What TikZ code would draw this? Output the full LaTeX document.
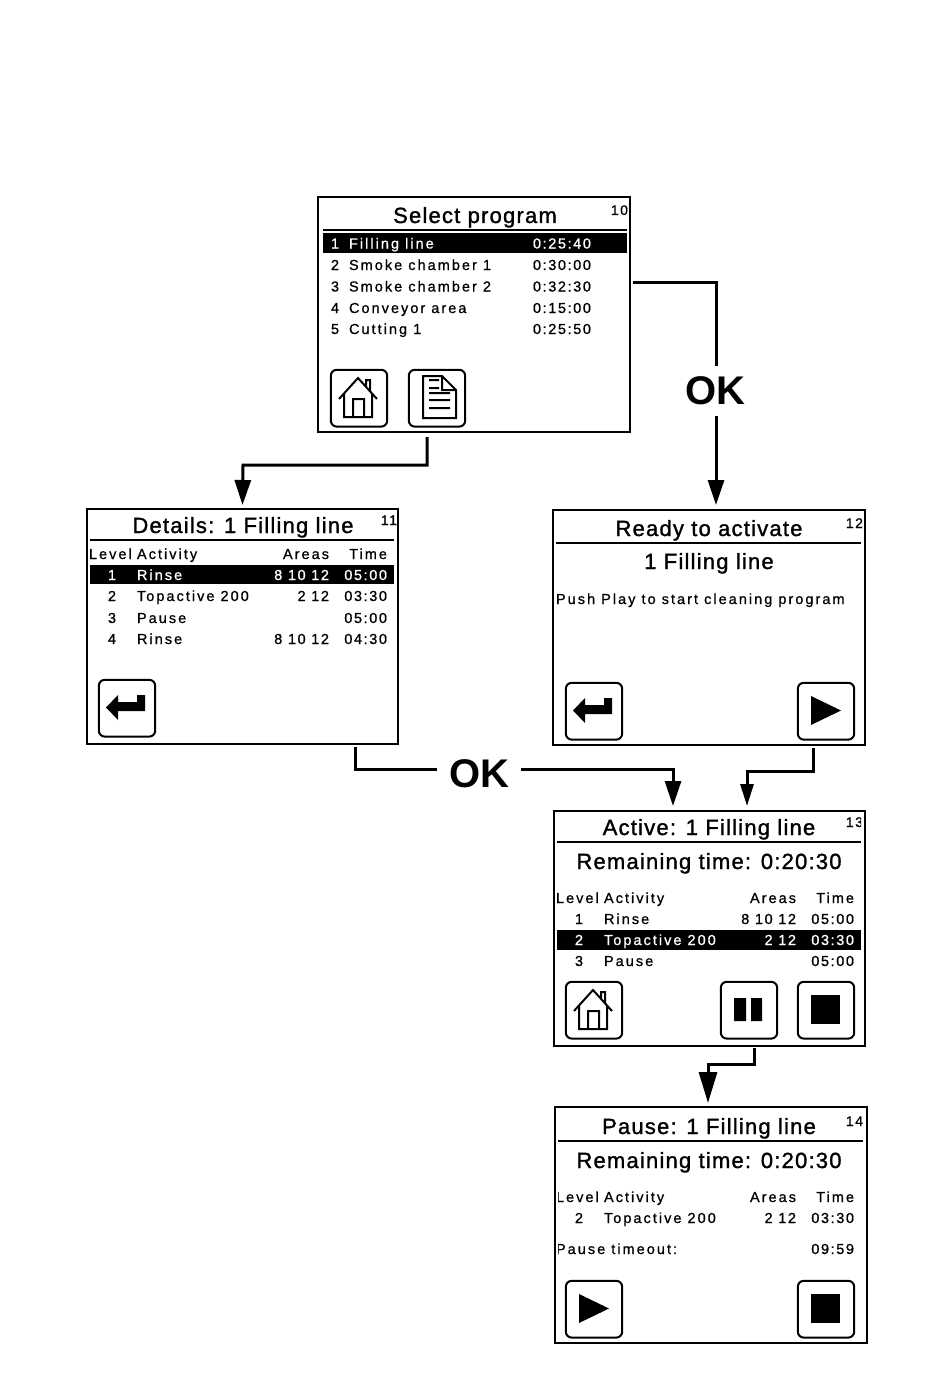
\documentclass[tikz,border=0pt]{standalone}
\usepackage{fontspec}
\usetikzlibrary{arrows.meta}
\setmainfont{Liberation Sans}
\newfontfamily\lcd[LetterSpace=14,FakeBold=0.8]{Liberation Sans}
\newfontfamily\lcdnum[LetterSpace=11,FakeBold=0.8]{Liberation Sans}
\newfontfamily\lcdhead[LetterSpace=5.5,FakeBold=1.3]{Liberation Sans}
\newcount\tcnt
\newcommand{\T}[5][black]{\global\advance\tcnt 1 \node[lbl,text=#1,anchor=base #2] (t\the\tcnt) at (#3,#4) {#5};}
\newcommand{\Hd}[3]{\global\advance\tcnt 1 \node[headtxt,anchor=base] (t\the\tcnt) at (#1,#2) {#3};}
\newcommand{\Num}[3]{\global\advance\tcnt 1 \node[numtxt,anchor=base east] (t\the\tcnt) at (#1,#2) {#3};}
\newcommand{\Bar}[4]{\fill[black] (#1,#3) rectangle (#2,#4);}
\newcommand{\Rule}[3]{\draw[line width=1.8pt] (#1,#3) -- (#2,#3);}
\newcommand{\Bx}{\draw[btnbox] (0.8,0.8) rectangle (57.2,57.6);}
\newcommand{\Home}[2]{\begin{scope}[shift={(#1,#2)}]\Bx
 \draw[icon] (9,30) -- (28,9) -- (47,30) (14,25) -- (14,48) -- (42,48) -- (42,25) (23,48) -- (23,30) -- (34,30) -- (34,48) (36,17) -- (36,11) -- (40,11) -- (40,22);\end{scope}}
\newcommand{\Doc}[2]{\begin{scope}[shift={(#1,#2)}]\Bx
 \draw[icon] (15,7) -- (34,7) -- (48,21) -- (48,49) -- (15,49) -- cycle (34,7) -- (34,21) -- (48,21) (21,11) -- (31,11) (21,19) -- (31,19) (21,24) -- (42,24) (21,31) -- (42,31) (21,39) -- (42,39);\end{scope}}
\newcommand{\Ret}[2]{\begin{scope}[shift={(#1,#2)}]\Bx
 \fill (8,28.5) -- (20,16) -- (20,23) -- (39,23) -- (39,16) -- (47,16) -- (47,32) -- (20,32) -- (20,41) -- cycle;\end{scope}}
\newcommand{\Play}[2]{\begin{scope}[shift={(#1,#2)}]\Bx
 \fill (14,14) -- (44,28.5) -- (14,43) -- cycle;\end{scope}}
\newcommand{\Pse}[2]{\begin{scope}[shift={(#1,#2)}]\Bx
 \fill (14,17) rectangle (26,40) (31,17) rectangle (42,40);\end{scope}}
\newcommand{\Stp}[2]{\begin{scope}[shift={(#1,#2)}]\Bx
 \fill (14,14) rectangle (43,43);\end{scope}}
\tikzset{
 screen/.style={draw,line width=2pt,anchor=north west,inner sep=0pt,outer sep=0pt,minimum width=#1,fill=white},
 lbl/.style={inner sep=0pt,outer sep=0pt,font=\lcd\fontsize{14.5}{16}\selectfont},
 headtxt/.style={inner sep=0pt,outer sep=0pt,font=\lcdhead\fontsize{22}{24}\selectfont},
 numtxt/.style={inner sep=0pt,outer sep=0pt,font=\lcdnum\fontsize{14}{16}\selectfont},
 btnbox/.style={line width=2pt,rounded corners=6pt},
 icon/.style={line width=2pt,line join=miter},
 conn/.style={line width=3pt,line join=miter},
 arr/.style={conn,-{Triangle[length=25pt,width=16pt]}},
 okn/.style={inner sep=0pt,outer sep=0pt,font=\bfseries\fontsize{40}{44}\selectfont,minimum width=84pt,minimum height=50pt},
}
\newcommand{\D}[1]{{\lcdnum\fontsize{14.5}{16}\selectfont #1}}
\begin{document}
\begin{tikzpicture}[x=1pt,y=-1pt]
\useasboundingbox (0,0) rectangle (950,1388);
% screens
\node[screen=312pt,minimum height=235pt] (s10) at (318,197) {};
\node[screen=311pt,minimum height=235pt] (s11) at (87,509) {};
\node[screen=312pt,minimum height=235pt] (s12) at (553,510) {};
\node[screen=311pt,minimum height=235pt] (s13) at (554,811) {};
\node[screen=312pt,minimum height=236pt] (s14) at (555,1107) {};
% screen 10
\Hd{475}{223}{Select program}
\Num{628}{215}{10}
\Rule{323}{627}{230}
\Bar{323}{627}{233}{253}
\T[white]{west}{331}{248.5}{\D{1}}\T[white]{west}{349}{248.5}{Filling line}\T[white]{west}{533}{248.5}{\D{0:25:40}}
\T{west}{331}{270}{\D{2}}\T{west}{349}{270}{Smoke chamber 1}\T{west}{533}{270}{\D{0:30:00}}
\T{west}{331}{291.5}{\D{3}}\T{west}{349}{291.5}{Smoke chamber 2}\T{west}{533}{291.5}{\D{0:32:30}}
\T{west}{331}{313}{\D{4}}\T{west}{349}{313}{Conveyor area}\T{west}{533}{313}{\D{0:15:00}}
\T{west}{331}{334}{\D{5}}\T{west}{349}{334}{Cutting 1}\T{west}{533}{334}{\D{0:25:50}}
\Home{330}{369}\Doc{408}{369}
% screen 11
\Hd{243}{533}{Details: 1 Filling line}
\Num{397}{525}{11}
\Rule{90}{394}{540}
\T{west}{89}{559}{Level}\T{west}{137}{559}{Activity}\T{east}{329}{559}{Areas}\T{east}{387}{559}{Time}
\Bar{90}{394}{565}{584}
\T[white]{}{112}{580}{\D{1}}\T[white]{west}{137}{580}{Rinse}\T[white]{east}{329}{580}{\D{8 10 12}}\T[white]{east}{387}{580}{\D{05:00}}
\T{}{112}{601}{\D{2}}\T{west}{137}{601}{Topactive 200}\T{east}{329}{601}{\D{2 12}}\T{east}{387}{601}{\D{03:30}}
\T{}{112}{623}{\D{3}}\T{west}{137}{623}{Pause}\T{east}{387}{623}{\D{05:00}}
\T{}{112}{644}{\D{4}}\T{west}{137}{644}{Rinse}\T{east}{329}{644}{\D{8 10 12}}\T{east}{387}{644}{\D{04:30}}
\Ret{98}{679}
% screen 12
\Hd{709}{536}{Ready to activate}
\begin{scope}\clip (840,512) rectangle (862,535);\Num{863}{528}{12}\end{scope}
\Rule{556}{861}{543}
\Hd{709}{569}{1 Filling line}
\T{west}{556}{604}{Push Play to start cleaning program}
\Ret{565}{682}\Play{797}{682}
% screen 13
\Hd{709}{835}{Active: 1 Filling line}
\begin{scope}\clip (840,813) rectangle (861,835);\Num{863}{827}{13}\end{scope}
\Rule{557}{861}{842}
\Hd{709}{869}{Remaining time: 0:20:30}
\T{west}{556}{903}{Level}\T{west}{604}{903}{Activity}\T{east}{796}{903}{Areas}\T{east}{854}{903}{Time}
\T{}{579}{924}{\D{1}}\T{west}{604}{924}{Rinse}\T{east}{796}{924}{\D{8 10 12}}\T{east}{854}{924}{\D{05:00}}
\Bar{557}{861}{930}{950}
\T[white]{}{579}{945}{\D{2}}\T[white]{west}{604}{945}{Topactive 200}\T[white]{east}{796}{945}{\D{2 12}}\T[white]{east}{854}{945}{\D{03:30}}
\T{}{579}{966}{\D{3}}\T{west}{604}{966}{Pause}\T{east}{854}{966}{\D{05:00}}
\Home{565}{981}\Pse{720}{981}\Stp{797}{981}
% screen 14
\Hd{709}{1134}{Pause: 1 Filling line}
\Num{863}{1126}{14}
\Rule{558}{863}{1141}
\Hd{709}{1168}{Remaining time: 0:20:30}
\begin{scope}\clip (558,1185) rectangle (700,1260);
\T{west}{556}{1202}{Level}\T{west}{556}{1254}{Pause timeout:}\end{scope}
\T{west}{604}{1202}{Activity}\T{east}{796}{1202}{Areas}\T{east}{854}{1202}{Time}
\T{}{579}{1223}{\D{2}}\T{west}{604}{1223}{Topactive 200}\T{east}{796}{1223}{\D{2 12}}\T{east}{854}{1223}{\D{03:30}}
\T{east}{854}{1254}{\D{09:59}}
\Play{565}{1280}\Stp{797}{1280}
% OK labels
\node[okn] (ok1) at (715,391) {OK};
\node[okn] (ok2) at (479,774) {OK};
% connectors
\draw[conn] ([shift={(3pt,32pt)}]s10.east) -| ([xshift=1pt]ok1.north);
\draw[arr] ([xshift=1pt]ok1.south) -- ([xshift=1pt,yshift=5pt]ok1.south |- s12.north);
\draw[arr] ([shift={(109pt,-5pt)}]s10.south west) |- (243,465) -- ([yshift=4pt]s11.north);
\draw[conn] ([shift={(268pt,-3pt)}]s11.south west) |- ([yshift=5pt]ok2.west);
\draw[arr] ([yshift=5pt]ok2.east) -| ([shift={(119pt,5pt)}]s13.north west);
\draw[conn,-{Triangle[length=22pt,width=13pt]}] ([shift={(260pt,-3pt)}]s12.south west) |- (747,771) -- ([shift={(193pt,5pt)}]s13.north west);
\draw[conn,-{Triangle[length=31pt,width=18pt]}] ([shift={(200pt,-2pt)}]s13.south west) |- (708,1064) -- ([shift={(153pt,4pt)}]s14.north west);
\end{tikzpicture}
\end{document}
